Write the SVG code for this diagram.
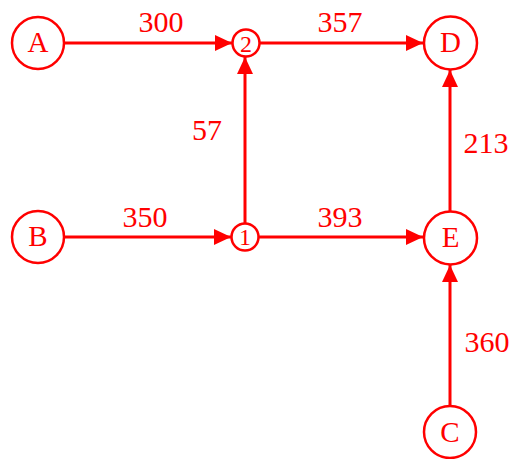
<svg xmlns="http://www.w3.org/2000/svg" width="517" height="459" viewBox="0 0 517 459">
<style>
.n{fill:#fff;stroke:#ff0000;stroke-width:2.5}
.t{font-family:"Liberation Serif",serif;font-size:30px;fill:#ff0000;text-anchor:middle}
.l{font-family:"Liberation Serif",serif;font-size:29px;fill:#ff0000;text-anchor:middle}
.s{font-family:"Liberation Serif",serif;font-size:24px;fill:#ff0000;text-anchor:middle}
.e{stroke:#ff0000;stroke-width:3;fill:none;marker-end:url(#ah)}
</style>
<defs>
<marker id="ah" markerUnits="userSpaceOnUse" markerWidth="18" markerHeight="16" refX="17" refY="8" orient="auto">
<path d="M0,0 L17,8 L0,16 Z" fill="#ff0000"/>
</marker>
</defs>
<rect width="517" height="459" fill="#fff"/>
<g id="connectors">
<line class="e" x1="65" y1="43" x2="232" y2="43"/>
<line class="e" x1="260" y1="43" x2="423" y2="43"/>
<line class="e" x1="65" y1="237" x2="231" y2="237"/>
<line class="e" x1="259" y1="237" x2="423" y2="237"/>
<line class="e" x1="245" y1="223" x2="245" y2="57"/>
<line class="e" x1="450" y1="211" x2="450" y2="70"/>
<line class="e" x1="450" y1="405" x2="450" y2="265"/>
<text class="t" x="161" y="32">300</text>
<text class="t" x="340" y="32">357</text>
<text class="t" x="145" y="227">350</text>
<text class="t" x="340" y="227">393</text>
<text class="t" x="207" y="140">57</text>
<text class="t" x="486" y="153">213</text>
<text class="t" x="487" y="352">360</text>
</g>
<g id="A"><circle class="n" cx="38" cy="43" r="26"/><text class="l" x="38" y="52">A</text></g>
<g id="n2"><circle class="n" cx="246" cy="43" r="13.5"/><text class="s" x="246" y="52">2</text></g>
<g id="D"><circle class="n" cx="450.5" cy="43" r="26.5"/><text class="l" x="450.5" y="52">D</text></g>
<g id="B"><circle class="n" cx="38" cy="237" r="26"/><text class="l" x="38" y="246">B</text></g>
<g id="n1"><circle class="n" cx="245" cy="237" r="13.5"/><text class="s" x="245" y="245">1</text></g>
<g id="E"><circle class="n" cx="450.5" cy="238" r="26.5"/><text class="l" x="450.5" y="247">E</text></g>
<g id="C"><circle class="n" cx="450" cy="432" r="26"/><text class="l" x="450" y="442">C</text></g>
</svg>
